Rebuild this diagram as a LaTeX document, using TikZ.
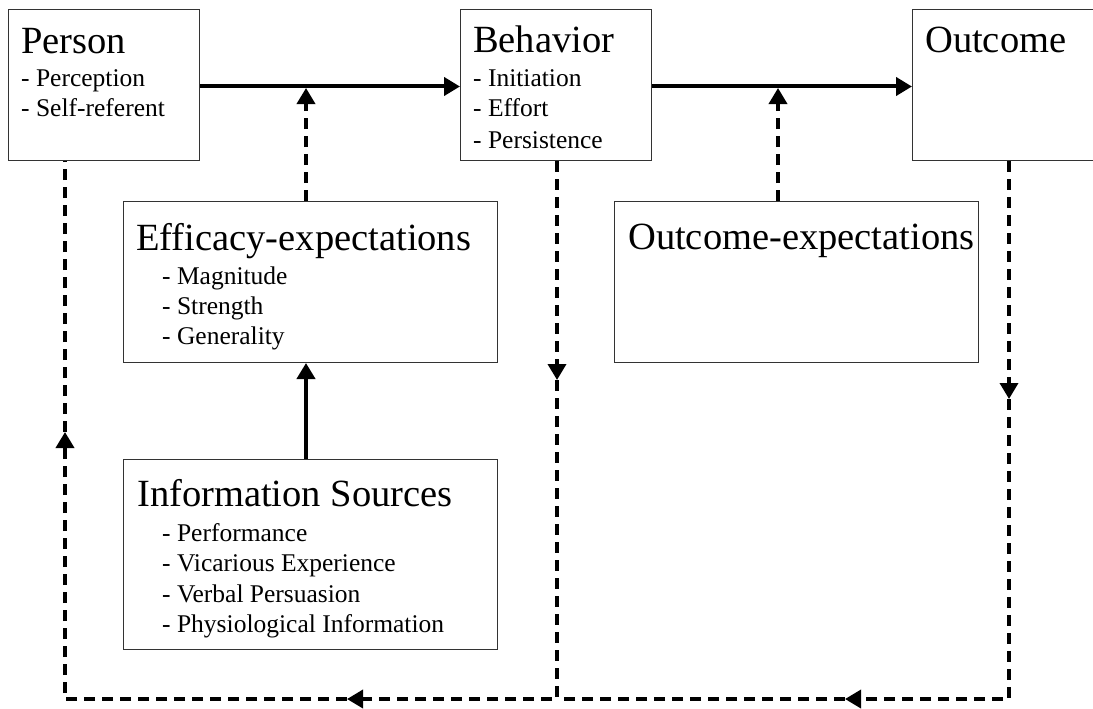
\documentclass[tikz,border=0pt]{standalone}
\usepackage{fontspec}
\setmainfont{Liberation Serif}
\usetikzlibrary{arrows.meta}
\begin{document}
\begin{tikzpicture}[x=1pt,y=-1pt,
 box/.style={draw=black!80, line width=1pt, anchor=north west, inner sep=0pt, fill=white},
 ttl/.style={anchor=base west, inner sep=0pt, font=\fontsize{38.5}{40}\selectfont},
 itm/.style={anchor=base west, inner sep=0pt, font=\fontsize{25.5}{28}\selectfont},
 tip/.style={-{Triangle[length=16pt,width=18pt]}},
 solidarr/.style={line width=4pt, tip},
 dasharr/.style={line width=3.5pt, dash pattern=on 11pt off 7pt},
]
\clip (0,0) rectangle (1093,709);
% boxes
\node[box, minimum width=191pt, minimum height=151pt] (person) at (8,9) {};
\node[box, minimum width=191pt, minimum height=151pt] (behavior) at (460,9) {};
\node[box, minimum width=210pt, minimum height=151pt] (outcome) at (912,9) {};
\node[box, minimum width=374pt, minimum height=161pt] (eff) at (123,201) {};
\node[box, minimum width=364pt, minimum height=161pt] (oexp) at (614,201) {};
\node[box, minimum width=374pt, minimum height=190pt] (info) at (123,459) {};
% texts
\node[ttl] (tperson) at (21,54) {Person};
\node[itm] (p1) at (21,87) {- Perception};
\node[itm] (p2) at (21,117) {- Self-referent};
\node[ttl] (tbeh) at (473,53) {Behavior};
\node[itm] (b1) at (473,87) {- Initiation};
\node[itm] (b2) at (473,117) {- Effort};
\node[itm] (b3) at (473,148) {- Persistence};
\node[ttl] (tout) at (925,53) {Outcome};
\node[ttl] (teff) at (136,250) {Efficacy-expectations};
\node[itm] (e1) at (162,284) {- Magnitude};
\node[itm] (e2) at (162,314) {- Strength};
\node[itm] (e3) at (162,344) {- Generality};
\node[ttl] (toexp) at (628,249) {Outcome-expectations};
\node[ttl] (tinfo) at (137,506) {Information Sources};
\node[itm] (i1) at (162,541) {- Performance};
\node[itm] (i2) at (162,571) {- Vicarious Experience};
\node[itm] (i3) at (162,602) {- Verbal Persuasion};
\node[itm] (i4) at (162,632) {- Physiological Information};
% coordinates
\coordinate (j1) at (306,88);
\coordinate (j2) at (778,88);
\coordinate (bdown) at (557,380);
\coordinate (bcorner) at (557,699);
\coordinate (barr) at (347,699);
\coordinate (pcorner) at (65,699);
\coordinate (parr) at (65,432);
\coordinate (odown) at (1009,399);
\coordinate (ocorner) at (1009,699);
\coordinate (oarr) at (845,699);
% main arrows
\draw[solidarr] ([yshift=-1.5pt]person.east) -- ([yshift=-1.5pt]behavior.west);
\draw[solidarr] ([yshift=-1.5pt]behavior.east) -- ([yshift=-1.5pt]outcome.west);
\draw[solidarr] (info.north -| j1) -- (eff.south -| j1);
\draw[dasharr, tip] (eff.north -| j1) -- (j1);
\draw[dasharr, tip] (oexp.north -| j2) -- (j2);
% feedback loops
\draw[dasharr, tip] (behavior.south -| bcorner) -- (bdown);
\draw[dasharr, tip] (bdown) -- (bcorner) -- (barr);
\draw[dasharr, tip] (barr) -- (pcorner) -- (parr);
\draw[dasharr] (parr) -- (person.south -| parr);
\draw[dasharr, tip] (outcome.south -| ocorner) -- (odown);
\draw[dasharr, tip] (odown) -- (ocorner) -- (oarr);
\draw[dasharr] (oarr) -- (bcorner);
\end{tikzpicture}
\end{document}
